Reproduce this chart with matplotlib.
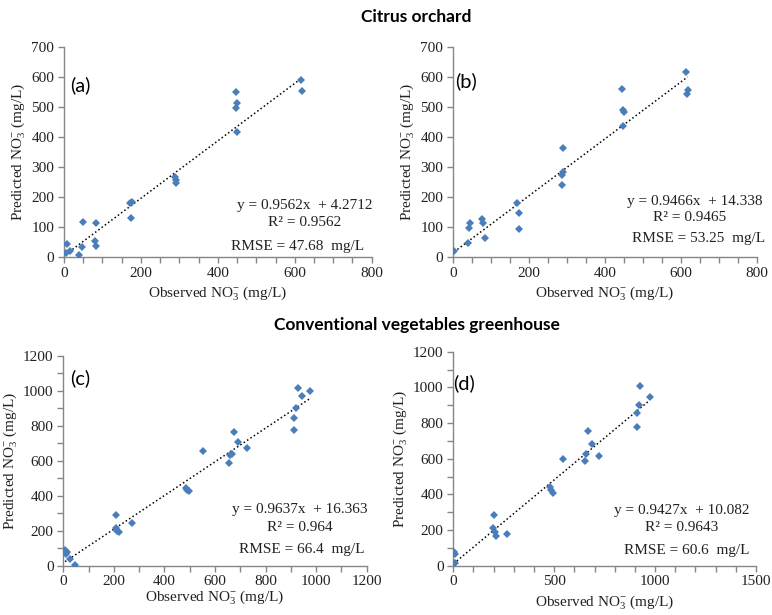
import numpy as np
import matplotlib
matplotlib.use('Agg')
import matplotlib.pyplot as plt
from matplotlib.ticker import MultipleLocator

plt.rcParams['font.family'] = ['Liberation Serif', 'DejaVu Serif']
plt.rcParams['mathtext.fontset'] = 'custom'
plt.rcParams['mathtext.rm'] = 'Liberation Serif'
plt.rcParams['mathtext.it'] = 'Liberation Serif:italic'

# Citrus orchard (a)
obs_a = [8, 15, 5, 40, 46, 50, 83, 80, 83, 172, 178, 174, 288, 290, 292, 447, 449, 448, 449, 617, 618]
pred_a = [43, 21, 12, 7, 34, 118, 112, 53, 38, 179, 183, 129, 267, 256, 247, 550, 514, 497, 417, 589, 552]
# Citrus orchard (b)
obs_b = [3, 40, 42, 46, 77, 79, 83, 169, 173, 173, 291, 290, 287, 288, 444, 447, 450, 449, 615, 618, 616]
pred_b = [20, 45, 95, 112, 126, 112, 63, 180, 147, 94, 364, 284, 273, 241, 558, 489, 484, 436, 616, 556, 543]
# Conventional vegetables greenhouse (c)
obs_c = [7, 16, 11, 26, 46, 207, 207, 214, 222, 273, 484, 488, 497, 551, 657, 661, 668, 674, 691, 725,
         913, 914, 919, 927, 943, 975]
pred_c = [90, 76, 65, 38, 4, 292, 214, 200, 191, 246, 446, 435, 425, 655, 590, 633, 637, 763, 708, 672,
          847, 778, 900, 1015, 971, 1000]
# Conventional vegetables greenhouse (d)
obs_d = [2, 7, 10, 200, 197, 205, 213, 266, 478, 486, 494, 544, 653, 658, 668, 688, 724, 910, 912, 919, 925, 973]
pred_d = [78, 64, 13, 284, 210, 191, 168, 178, 443, 425, 410, 597, 589, 625, 754, 682, 615, 855, 780, 901, 1008, 948]

slopes = [0.9562, 0.9466, 0.9637, 0.9427]
intercepts = [4.2712, 14.338, 16.363, 10.082]
eq_texts = ['y = 0.9562x  + 4.2712', 'y = 0.9466x  + 14.338', 'y = 0.9637x  + 16.363', 'y = 0.9427x  + 10.082']
r2_texts = ['R² = 0.9562', 'R² = 0.9465', 'R² = 0.964', 'R² = 0.9643']
rmse_texts = ['RMSE = 47.68  mg/L', 'RMSE = 53.25  mg/L', 'RMSE = 66.4  mg/L', 'RMSE = 60.6  mg/L']
panel_labels = ['(a)', '(b)', '(c)', '(d)']
xlims = [800, 800, 1200, 1500]
ylims = [700, 700, 1200, 1200]
xmajor = [200, 200, 200, 500]
xminor = [50, 50, 100, 100]
ymajor = [100, 100, 200, 200]
yminor = [100, 100, 100, 100]

obs_all = [obs_a, obs_b, obs_c, obs_d]
pred_all = [pred_a, pred_b, pred_c, pred_d]

fig = plt.figure(figsize=(7.72, 6.15), dpi=100)
rects = [
    [0.0829, 0.5821, 0.3986, 0.3420],
    [0.5868, 0.5821, 0.3934, 0.3420],
    [0.0820, 0.0802, 0.3930, 0.3409],
    [0.5872, 0.0802, 0.3921, 0.3479],
]
# text positions in axes fraction
eq_pos = [(0.783, 0.247), (0.797, 0.263), (0.780, 0.269), (0.755, 0.257)]
r2_pos = [(0.783, 0.163), (0.780, 0.187), (0.780, 0.183), (0.755, 0.179)]
rmse_pos = [(0.760, 0.052), (0.808, 0.086), (0.786, 0.078), (0.771, 0.073)]
lab_pos = [(0.02, 0.818), (0.007, 0.835), (0.024, 0.895), (0.0, 0.854)]
xlab_pad = [3, 3, 0, 3]

spine_col = '#868686'
for i in range(4):
    ax = fig.add_axes(rects[i])
    x = np.array(obs_all[i])
    y = np.array(pred_all[i])
    ax.plot(x, y, 'D', color='#4A7EBB', ms=4.3, mew=0, zorder=3)
    xl = np.array([x.min(), x.max()])
    ax.plot(xl, slopes[i] * xl + intercepts[i], ':', color='black', lw=1.1, zorder=2)
    ax.set_xlim(0, xlims[i])
    ax.set_ylim(0, ylims[i])
    ax.xaxis.set_major_locator(MultipleLocator(xmajor[i]))
    ax.xaxis.set_minor_locator(MultipleLocator(xminor[i]))
    ax.yaxis.set_major_locator(MultipleLocator(ymajor[i]))
    ax.yaxis.set_minor_locator(MultipleLocator(yminor[i]))
    for s in ['top', 'right']:
        ax.spines[s].set_visible(False)
    for s in ['left', 'bottom']:
        ax.spines[s].set_color(spine_col)
        ax.spines[s].set_linewidth(1.0)
    ax.tick_params(which='both', direction='out', length=4, width=1, color=spine_col,
                   labelsize=11, labelcolor='#222222', pad=3)
    ax.set_xlabel(r'Observed NO$_3^{-}$ (mg/L)', fontsize=11, labelpad=xlab_pad[i], color='#222222')
    ax.set_ylabel(r'Predicted NO$_3^{-}$ (mg/L)', fontsize=11, labelpad=3, color='#222222')
    ax.text(eq_pos[i][0], eq_pos[i][1], eq_texts[i], transform=ax.transAxes,
            ha='center', va='center', fontsize=11, color='#222222')
    ax.text(r2_pos[i][0], r2_pos[i][1], r2_texts[i], transform=ax.transAxes,
            ha='center', va='center', fontsize=11, color='#222222')
    ax.text(rmse_pos[i][0], rmse_pos[i][1], rmse_texts[i], transform=ax.transAxes,
            ha='center', va='center', fontsize=11, color='#222222')
    ax.text(lab_pos[i][0], lab_pos[i][1], panel_labels[i], transform=ax.transAxes,
            ha='left', va='center', fontsize=14.5, family=['Lato', 'DejaVu Sans'], color='black')

fig.text(0.539, 1 - 17 / 615, 'Citrus orchard', ha='center', va='center',
         fontsize=12.5, fontweight='bold', family=['Lato', 'DejaVu Sans'])
fig.text(0.540, 1 - 325 / 615, 'Conventional vegetables greenhouse', ha='center', va='center',
         fontsize=12.5, fontweight='bold', family=['Lato', 'DejaVu Sans'])

fig.savefig('out.png', dpi=100)
